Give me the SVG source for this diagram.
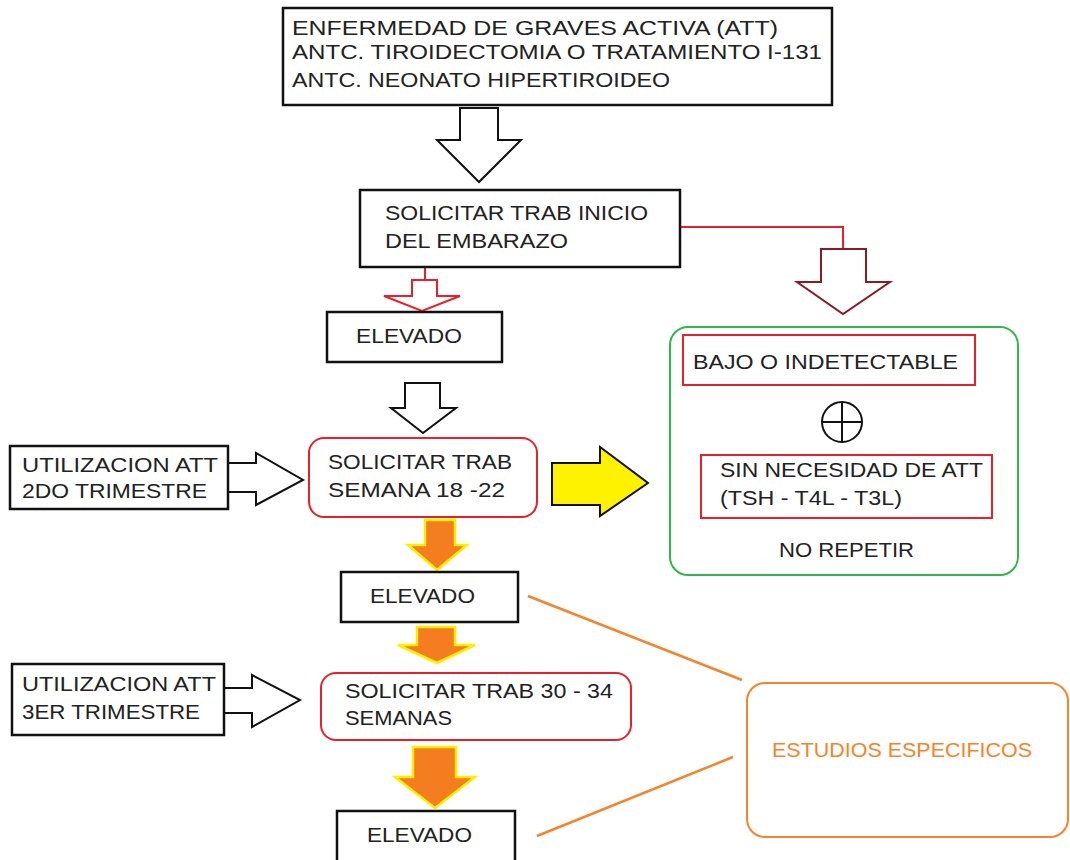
<svg xmlns="http://www.w3.org/2000/svg" width="1070" height="860" viewBox="0 0 1070 860">
<style>
text{font-family:"Liberation Sans","Open Sans",sans-serif;font-size:21px;fill:#222}
.bx{fill:#fff;stroke:#111;stroke-width:2.5}
.rr{fill:#fff;stroke:#e8202a;stroke-width:2}
.wa{fill:#fff;stroke:#111;stroke-width:2}
.oa{fill:#f47d20;stroke:#ffee00;stroke-width:2.5;stroke-linejoin:miter}
.ol{stroke:#f5842a;stroke-width:2.5;fill:none}
</style>
<rect width="1070" height="860" fill="#fff"/>
<g id="connectors">
  <polygon class="wa" points="460,108 498,108 498,140 521,140 479,182 437,140 460,140"/>
  <polyline points="680,227 843,227 843,249" fill="none" stroke="#e8202a" stroke-width="2"/>
  <polygon points="821,249 866,249 866,282 890,282 843,314 797,282 821,282" fill="#fff" stroke="#8b1a22" stroke-width="2"/>
  <line x1="425" y1="267" x2="425" y2="280" stroke="#e8202a" stroke-width="2"/>
  <polygon points="412,280 437,280 437,296 460,296 422,311 384,296 412,296" fill="#fff" stroke="#e8202a" stroke-width="2"/>
  <polygon class="wa" points="405,383 440,383 440,408 456,408 423,433 391,408 405,408"/>
  <polygon class="wa" points="228,463 256,463 256,453 303,480 256,505 256,492 228,492"/>
  <polygon points="552,463 600,463 600,447 648,483 600,516 600,505 552,505" fill="#fff200" stroke="#111" stroke-width="2"/>
  <polygon class="oa" points="425,520 455,520 455,545 467,545 437,570 408,545 425,545"/>
  <polygon class="oa" points="417,627 455,627 455,645 475,645 437,663 398,645 417,645"/>
  <polygon class="wa" points="221,688 252,688 252,675 300,700 252,727 252,713 221,713"/>
  <polygon class="oa" points="413,747 456,747 456,777 475,777 435,808 395,777 413,777"/>
  <line class="ol" x1="528" y1="596" x2="742" y2="680"/>
  <line class="ol" x1="537" y1="836" x2="733" y2="757"/>
</g>
<g id="n-top">
  <rect class="bx" x="283" y="8" width="549" height="97"/>
  <text x="292" y="35" textLength="486" lengthAdjust="spacingAndGlyphs">ENFERMEDAD  DE GRAVES  ACTIVA (ATT)</text>
  <text x="292" y="59" textLength="530" lengthAdjust="spacingAndGlyphs">ANTC. TIROIDECTOMIA O TRATAMIENTO I-131</text>
  <text x="292" y="87" textLength="378" lengthAdjust="spacingAndGlyphs">ANTC. NEONATO HIPERTIROIDEO</text>
</g>
<g id="n-inicio">
  <rect class="bx" x="360" y="190" width="320" height="77"/>
  <text x="385" y="220" textLength="263" lengthAdjust="spacingAndGlyphs">SOLICITAR TRAB INICIO</text>
  <text x="385" y="248" textLength="183" lengthAdjust="spacingAndGlyphs">DEL EMBARAZO</text>
</g>
<g id="n-elevado1">
  <rect class="bx" x="327" y="312" width="175" height="50"/>
  <text x="356" y="343" textLength="106" lengthAdjust="spacingAndGlyphs">ELEVADO</text>
</g>
<g id="n-util2">
  <rect class="bx" x="10" y="446" width="218" height="63"/>
  <text x="22" y="472" textLength="196" lengthAdjust="spacingAndGlyphs">UTILIZACION ATT</text>
  <text x="22" y="498" textLength="185" lengthAdjust="spacingAndGlyphs">2DO TRIMESTRE</text>
</g>
<g id="n-sem18">
  <rect class="rr" x="309" y="438" width="228" height="79" rx="15"/>
  <text x="328" y="469" textLength="184" lengthAdjust="spacingAndGlyphs">SOLICITAR TRAB</text>
  <text x="328" y="497" textLength="177" lengthAdjust="spacingAndGlyphs">SEMANA 18 -22</text>
</g>
<g id="n-bajo">
  <rect x="670" y="327" width="348" height="248" rx="18" fill="#fff" stroke="#2eb84a" stroke-width="2"/>
  <rect class="rr" x="683" y="335" width="292" height="50"/>
  <text x="693" y="369" textLength="265" lengthAdjust="spacingAndGlyphs">BAJO O  INDETECTABLE</text>
  <circle cx="842" cy="422" r="20" fill="none" stroke="#111" stroke-width="2"/>
  <line x1="822" y1="422" x2="862" y2="422" stroke="#111" stroke-width="2"/>
  <line x1="842" y1="402" x2="842" y2="442" stroke="#111" stroke-width="2"/>
  <rect class="rr" x="701" y="455" width="291" height="63"/>
  <text x="720" y="477" textLength="263" lengthAdjust="spacingAndGlyphs">SIN NECESIDAD DE ATT</text>
  <text x="720" y="505" textLength="182" lengthAdjust="spacingAndGlyphs">(TSH - T4L - T3L)</text>
  <text x="779" y="557" textLength="135" lengthAdjust="spacingAndGlyphs">NO REPETIR</text>
</g>
<g id="n-elevado2">
  <rect class="bx" x="341" y="572" width="177" height="50"/>
  <text x="370" y="603" textLength="105" lengthAdjust="spacingAndGlyphs">ELEVADO</text>
</g>
<g id="n-util3">
  <rect class="bx" x="12" y="664" width="212" height="71"/>
  <text x="22" y="691" textLength="194" lengthAdjust="spacingAndGlyphs">UTILIZACION ATT</text>
  <text x="22" y="719" textLength="178" lengthAdjust="spacingAndGlyphs">3ER TRIMESTRE</text>
</g>
<g id="n-sem30">
  <rect class="rr" x="321" y="673" width="310" height="67" rx="15"/>
  <text x="345" y="698" textLength="268" lengthAdjust="spacingAndGlyphs">SOLICITAR TRAB 30 - 34</text>
  <text x="345" y="725" textLength="107" lengthAdjust="spacingAndGlyphs">SEMANAS</text>
</g>
<g id="n-elevado3">
  <rect class="bx" x="337" y="811" width="178" height="56"/>
  <text x="367" y="842" textLength="105" lengthAdjust="spacingAndGlyphs">ELEVADO</text>
</g>
<g id="n-estudios">
  <rect x="747" y="683" width="321" height="154" rx="18" fill="#fff" stroke="#f5842a" stroke-width="2"/>
  <text x="772" y="757" textLength="260" lengthAdjust="spacingAndGlyphs" style="fill:#f5842a">ESTUDIOS ESPECIFICOS</text>
</g>
</svg>
